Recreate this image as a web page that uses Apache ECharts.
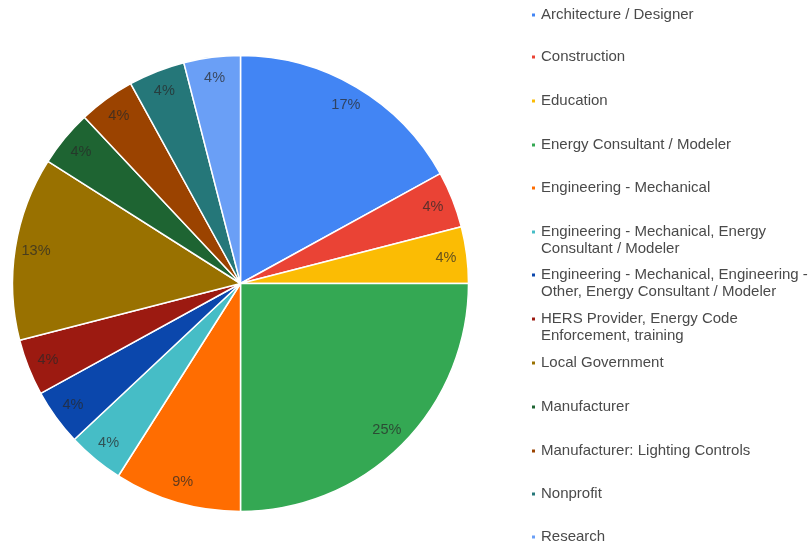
<!DOCTYPE html>
<html>
<head>
<meta charset="utf-8">
<script src="https://cdn.jsdelivr.net/npm/echarts@6/dist/echarts.min.js"></script>
<style>html,body{margin:0;padding:0;background:#fff}#c{width:810px;height:547px}</style>
</head>
<body>
<div id="c"></div>
<script>
const categories = [
  "Architecture / Designer",
  "Construction",
  "Education",
  "Energy Consultant / Modeler",
  "Engineering - Mechanical",
  "Engineering - Mechanical, Energy\nConsultant / Modeler",
  "Engineering - Mechanical, Engineering -\nOther, Energy Consultant / Modeler",
  "HERS Provider, Energy Code\nEnforcement, training",
  "Local Government",
  "Manufacturer",
  "Manufacturer: Lighting Controls",
  "Nonprofit",
  "Research"
];
const values = [17, 4, 4, 25, 9, 4, 4, 4, 13, 4, 4, 4, 4];
const colors = ["#4285f4", "#ea4335", "#fbbc04", "#34a853", "#ff6d01", "#46bdc6",
  "#0b47ac", "#9c1a11", "#997100", "#1e6432", "#9b4300", "#257779", "#6a9ff6"];
const legendTops = [15, 57, 101, 145, 188, 232, 275, 319, 363, 407, 451, 494, 537];

const chart = echarts.init(document.getElementById('c'), null, {renderer: 'canvas'});
const data = categories.map((n, i) => ({name: n, value: values[i], itemStyle: {color: colors[i]}}));
const R = 228;
const LH = 16.5;
const legends = categories.map((n, i) => {
  const multi = n.indexOf('\n') >= 0;
  return {
    orient: 'vertical',
    left: 530,
    top: legendTops[i] - (multi ? LH * 1.5 : LH / 2),
    padding: 0,
    itemWidth: 5,
    itemHeight: 5,
    icon: 'rect',
    selectedMode: false,
    data: [n],
    formatter: name => (name.indexOf('\n') >= 0 ? ' \n' + name : name),
    textStyle: {
      fontFamily: 'Liberation Sans, Arial, sans-serif',
      fontSize: 15,
      color: '#4a4a4a',
      lineHeight: LH
    }
  };
});
chart.setOption({
  animation: false,
  color: colors,
  legend: legends,
  series: [
    {
      type: 'pie',
      center: [240.5, 283.5],
      radius: [0, R],
      startAngle: 90,
      clockwise: true,
      data: data,
      label: {show: false},
      labelLine: {show: false},
      itemStyle: {borderColor: '#fff', borderWidth: 1.5},
      emphasis: {disabled: true}
    },
    {
      type: 'pie',
      center: [240.5, 283.5],
      radius: [180, R],
      startAngle: 90,
      clockwise: true,
      silent: true,
      data: data.map(d => ({name: d.name, value: d.value, itemStyle: {color: 'rgba(0,0,0,0)'}})),
      itemStyle: {borderWidth: 0},
      labelLine: {show: false},
      label: {
        show: true,
        position: 'inside',
        formatter: p => Math.round(p.percent) + '%',
        fontFamily: 'Liberation Sans, Arial, sans-serif',
        fontSize: 14.5,
        color: 'rgba(40,40,40,0.72)'
      },
      emphasis: {disabled: true}
    }
  ]
});
</script>
</body>
</html>
